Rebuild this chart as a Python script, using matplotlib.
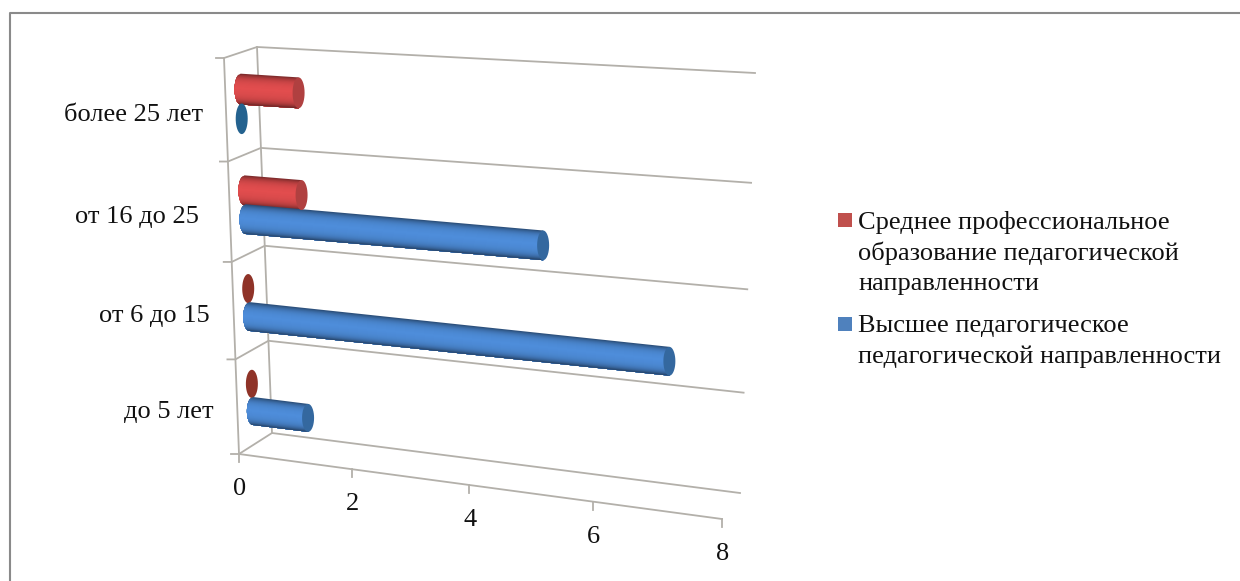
import matplotlib
matplotlib.use('Agg')
import matplotlib.pyplot as plt
import numpy as np
from matplotlib.colors import to_rgb
from matplotlib.patches import Polygon

categories = ['до 5 лет', 'от 6 до 15', 'от 16 до 25', 'более 25 лет']
higher_ed = [1, 7, 5, 0]
secondary_ed = [0, 0, 1, 1]
value_ticks = [0, 2, 4, 6, 8]
legend_secondary = ['Среднее профессиональное', 'образование педагогической', 'направленности']
legend_higher = ['Высшее педагогическое', 'педагогической направленности']

plt.rcParams['font.family'] = ['Liberation Serif', 'DejaVu Sans']

# corners of the 3d box on screen
front_bl, front_tl = np.array([239., 454.]), np.array([224., 58.])
front_br, front_tr = np.array([722., 519.]), np.array([737., 90.])
back_bl, back_tl = np.array([272., 433.]), np.array([257., 47.])
back_br, back_tr = np.array([740., 493.]), np.array([755., 73.])

max_value = 8
n_cat = len(categories)
bar_depth = 0.46
ellipse_w = 6
bar_radius = 0.15


def warp(t, a, b):
    return a * t / (1 + b * t)


def project(v, c, d):
    """value, category position, depth -> pixel position"""
    u = warp(v / max_value, 0.912, -0.088)
    w = warp(c / n_cat, 0.9417, -0.0583)
    front = (1 - w) * ((1 - u) * front_bl + u * front_br) + w * ((1 - u) * front_tl + u * front_tr)
    back = (1 - w) * ((1 - u) * back_bl + u * back_br) + w * ((1 - u) * back_tl + u * back_tr)
    return (1 - d) * front + d * back


def shade(base, s):
    # s from -1 (top of the tube) to 1 (bottom)
    base = np.array(to_rgb(base))
    k = 1.06 - 0.10 * abs(s + 0.1) - 0.45 * abs(s + 0.05) ** 4
    return tuple(np.clip(base * k, 0, 1))


def ring(center, radius_px, n=40):
    a = np.linspace(0, 2 * np.pi, n)
    return np.column_stack([center[0] + ellipse_w * np.cos(a), center[1] + radius_px * np.sin(a)])


def cylinder(ax, value, c, base, cap, stub):
    start = project(0.0, c, bar_depth)
    radius_px = abs(project(0.0, c + bar_radius, bar_depth)[1] - start[1])
    if value == 0:
        ax.add_patch(Polygon(ring(start, radius_px), closed=True, fc=stub, ec='none', zorder=3))
        return
    end = project(float(value), c, bar_depth)
    # painted top to bottom, every layer reaching the lower edge so no seams show
    for s in np.linspace(-1, 1, 30)[:-1]:
        ss = np.linspace(s, 1, 16)
        left = np.column_stack([start[0] - ellipse_w * np.sqrt(1 - ss ** 2), start[1] + ss * radius_px])
        right = [(end[0], end[1] + radius_px), (end[0], end[1] + s * radius_px)]
        ax.add_patch(Polygon(np.vstack([left, right]), closed=True, fc=shade(base, s), ec='none', zorder=3))
    # darker rounded end
    ax.add_patch(Polygon(ring(end, radius_px), closed=True, fc=cap, ec='none', zorder=4))


fig = plt.figure(figsize=(12.4, 5.81), dpi=100)
ax = fig.add_axes([0, 0, 1, 1])
ax.set_xlim(0, 1240)
ax.set_ylim(581, 0)
ax.axis('off')

# outer frame
ax.plot([10, 10, 1240], [581, 13, 13], color='#8a8a8a', lw=1.5)

grid_color = '#b3b0aa'
for i in range(n_cat + 1):
    f0, b0 = project(0.0, float(i), 0.0), project(0.0, float(i), 1.0)
    b1 = project(float(max_value), float(i), 1.0)
    ax.plot([f0[0] - 8, f0[0], b0[0], b1[0]], [f0[1], f0[1], b0[1], b1[1]], color=grid_color, lw=1.3, zorder=1)
ax.plot(*zip(project(0.0, 0.0, 0.0), project(0.0, float(n_cat), 0.0)), color=grid_color, lw=1.3, zorder=1)
ax.plot(*zip(project(0.0, 0.0, 1.0), project(0.0, float(n_cat), 1.0)), color=grid_color, lw=1.3, zorder=1)
ax.plot(*zip(project(0.0, 0.0, 0.0), project(float(max_value), 0.0, 0.0)), color=grid_color, lw=1.3, zorder=1)

for v in value_ticks:
    p = project(float(v), 0.0, 0.0)
    ax.plot([p[0], p[0]], [p[1], p[1] + 8], color=grid_color, lw=1.3, zorder=1)
    ax.text(p[0] + 1, p[1] + 35, str(v), ha='center', va='center', fontsize=19, color='#111111')

label_right = [214, 210, 199, 203]
for i, name in enumerate(categories):
    y = project(0.0, i + 0.5, 0.0)[1] + 5
    ax.text(label_right[i], y, name, ha='right', va='center', fontsize=19, color='#111111')

# top categories sit behind lower ones, red above blue
for i in range(n_cat - 1, -1, -1):
    cylinder(ax, secondary_ed[i], i + 0.65, '#d6494a', '#b04040', '#8f3328')
    cylinder(ax, higher_ed[i], i + 0.36, '#4a86cf', '#34689f', '#24628f')

# legend
ax.add_patch(plt.Rectangle((838, 213), 14, 14, fc='#c0504d', ec='none'))
ax.add_patch(plt.Rectangle((838, 317), 14, 14, fc='#4f81bd', ec='none'))
for k, line in enumerate(legend_secondary):
    ax.text(858, 222 + k * 31, line, ha='left', va='center', fontsize=19, color='#111111')
for k, line in enumerate(legend_higher):
    ax.text(858, 326 + k * 31, line, ha='left', va='center', fontsize=19, color='#111111')

fig.savefig('out.png', dpi=100)
